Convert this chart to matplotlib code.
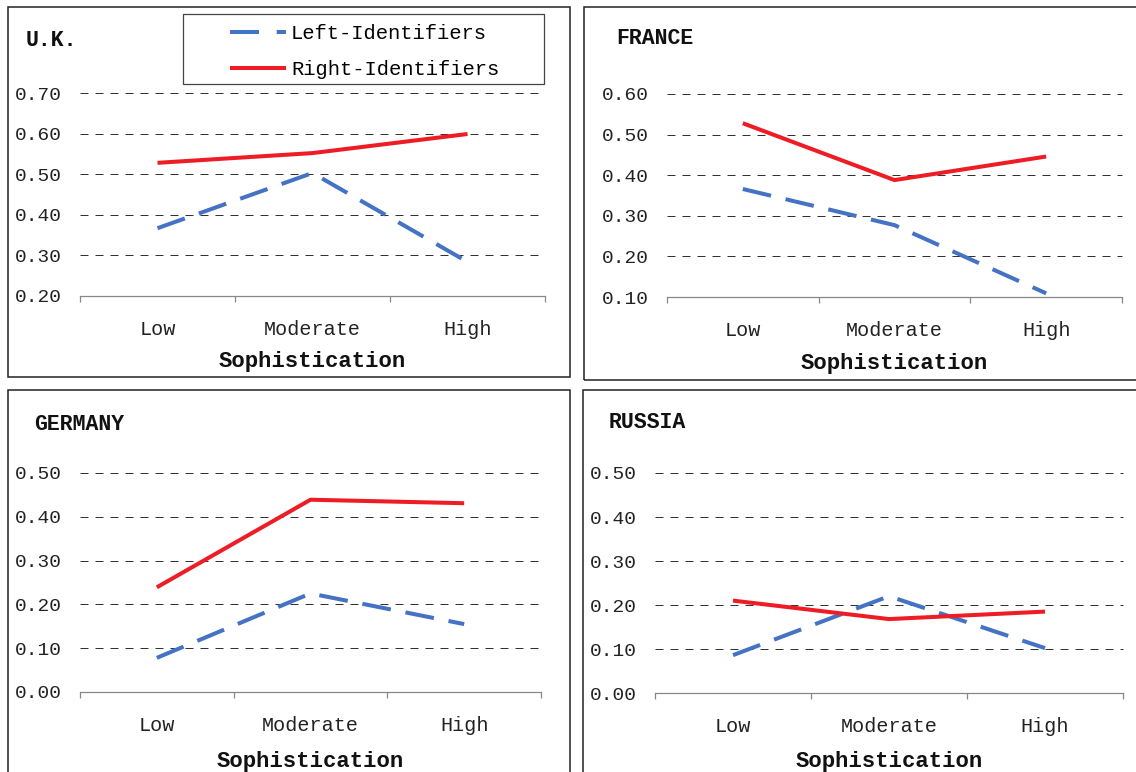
import matplotlib
matplotlib.use("Agg")
import matplotlib.pyplot as plt
from matplotlib.patches import Rectangle
from matplotlib.lines import Line2D
import numpy as np

plt.rcParams['font.family'] = ['Liberation Mono', 'DejaVu Sans Mono']

categories = ["Low", "Moderate", "High"]
countries = ["U.K.", "FRANCE", "GERMANY", "RUSSIA"]

uk_left = [0.367, 0.503, 0.284]
uk_right = [0.528, 0.552, 0.599]
fr_left = [0.366, 0.277, 0.109]
fr_right = [0.528, 0.388, 0.446]
de_left = [0.078, 0.225, 0.155]
de_right = [0.239, 0.439, 0.431]
ru_left = [0.086, 0.220, 0.102]
ru_right = [0.210, 0.168, 0.185]

uk_yticks = [0.20, 0.30, 0.40, 0.50, 0.60, 0.70]
fr_yticks = [0.10, 0.20, 0.30, 0.40, 0.50, 0.60]
de_yticks = [0.00, 0.10, 0.20, 0.30, 0.40, 0.50]
ru_yticks = [0.00, 0.10, 0.20, 0.30, 0.40, 0.50]

legend_labels = ["Left-Identifiers", "Right-Identifiers"]

BLUE = "#4472C4"
RED = "#EE1C25"

W, H = 1136, 772
fig = plt.figure(figsize=(W / 100, H / 100), dpi=100)


def fx(px):
    return px / W


def fy(py):
    return 1 - py / H


# panel frames (px: x0, y0, x1, y1)
frames = [(8, 7, 570, 377), (584, 7, 1140, 380), (8, 390, 570, 780), (583, 390, 1140, 780)]
for x0, y0, x1, y1 in frames:
    fig.patches.append(Rectangle((fx(x0), fy(y1)), fx(x1) - fx(x0), fy(y0) - fy(y1),
                                 transform=fig.transFigure, fill=False,
                                 edgecolor="#222222", lw=1.1, zorder=0))

# axes geometry (px): x0, x1, ytop, ybottom
geoms = [(80, 545, 93, 296), (667, 1122, 94, 297), (80, 541, 473, 692), (655, 1123, 473, 693)]
title_pos = [(26, 41), (616, 39), (34, 425), (609, 422)]
xlabel_y = [361, 364, 761, 761]
data = [(uk_left, uk_right, uk_yticks), (fr_left, fr_right, fr_yticks),
        (de_left, de_right, de_yticks), (ru_left, ru_right, ru_yticks)]

x = np.arange(len(categories))
lw_line = 2.9
for i, ((x0, x1, yt, yb), (left, right, yticks)) in enumerate(zip(geoms, data)):
    ax = fig.add_axes([fx(x0), fy(yb), fx(x1) - fx(x0), fy(yt) - fy(yb)])
    ax.set_xlim(-0.5, len(categories) - 0.5)
    ax.set_ylim(yticks[0], yticks[-1])
    for s in ["top", "right", "left"]:
        ax.spines[s].set_visible(False)
    ax.spines["bottom"].set_color("#888888")
    ax.spines["bottom"].set_linewidth(0.9)
    ax.set_yticks(yticks)
    ax.set_yticklabels([f"{v:.2f}" for v in yticks], fontsize=14, color="#222222")
    ax.tick_params(axis="y", length=0, pad=13)
    for v in yticks[1:]:
        ax.axhline(v, color="#333333", lw=0.72, ls=(0, (8, 7)), zorder=1, clip_on=False)
    ax.set_xticks(np.arange(-0.5, len(categories)))
    ax.set_xticklabels([])
    ax.tick_params(axis="x", which="major", length=4.5, width=0.9, color="#888888", direction="out")
    ax.set_xticks(x, minor=True)
    ax.set_xticklabels(categories, minor=True, fontsize=14.5, color="#222222")
    ax.tick_params(axis="x", which="minor", length=0, pad=17.5)

    ax.plot(x, left, color=BLUE, lw=lw_line, ls=(0, (7.2, 3.7)), solid_capstyle="butt",
            dash_capstyle="butt", zorder=3, clip_on=False)
    ax.plot(x, right, color=RED, lw=lw_line, solid_capstyle="butt", zorder=4, clip_on=False)

    ax.set_xlabel("Sophistication", fontsize=16, fontweight="bold", color="#111111")
    ax.xaxis.set_label_coords(0.5, (yb - xlabel_y[i]) / (yb - yt))
    ax.xaxis.label.set_verticalalignment("center")

    tx, ty = title_pos[i]
    fig.text(fx(tx), fy(ty), countries[i], fontsize=15.5, fontweight="bold",
             ha="left", va="center", color="#111111")

# legend (in the U.K. panel)
handles = [Line2D([], [], color=BLUE, lw=lw_line, ls=(0, (7.2, 4.4)), dash_capstyle="butt"),
           Line2D([], [], color=RED, lw=lw_line, solid_capstyle="butt")]
fig.legend(handles, legend_labels, loc="center left",
           bbox_to_anchor=(fx(230), fy(51.5)), bbox_transform=fig.transFigure,
           frameon=False, fontsize=14.8, handlelength=2.72, handletextpad=0.25,
           labelspacing=0.8, borderpad=0, borderaxespad=0)
fig.patches.append(Rectangle((fx(183), fy(84)), fx(544) - fx(183), fy(14) - fy(84),
                             transform=fig.transFigure, fill=False,
                             edgecolor="#444444", lw=0.9, zorder=0))

fig.savefig("out.png", dpi=100)
